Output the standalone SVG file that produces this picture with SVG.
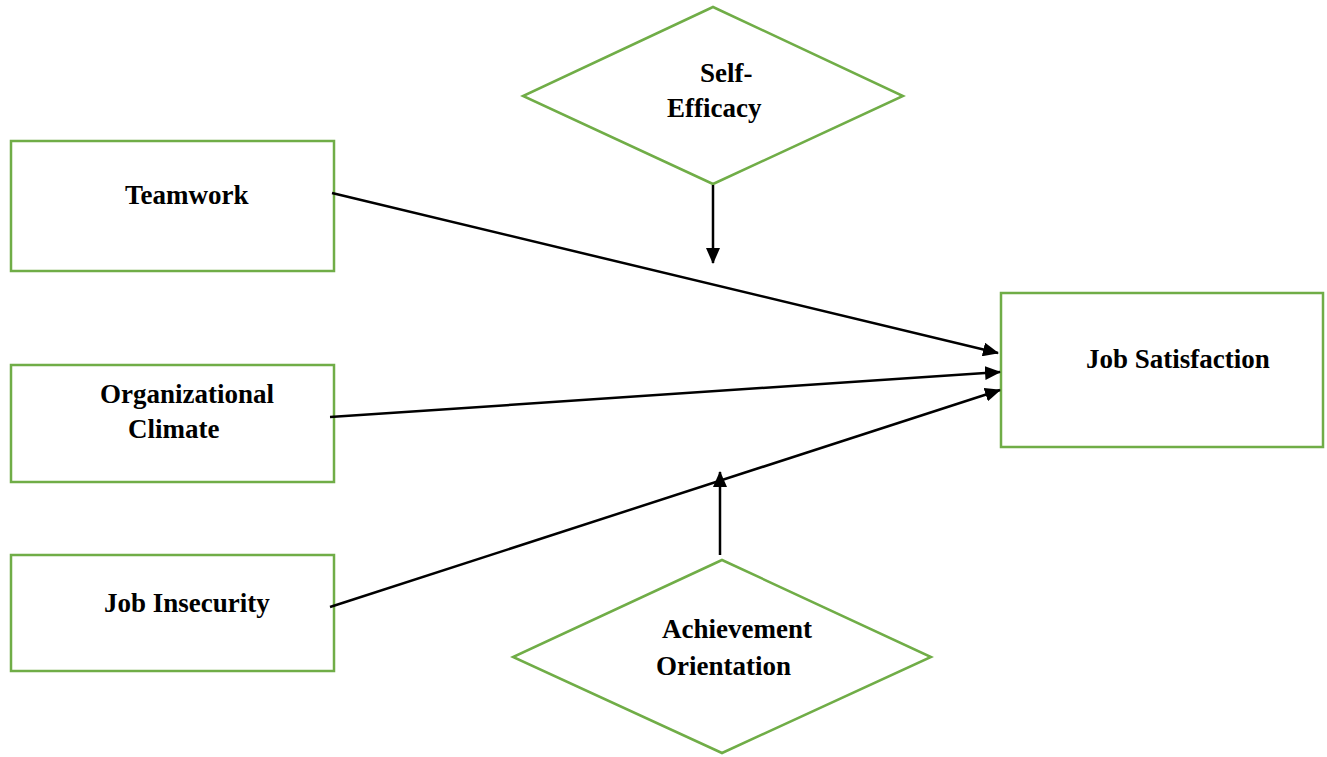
<svg xmlns="http://www.w3.org/2000/svg" width="1327" height="757" viewBox="0 0 1327 757">
<style>
.box{fill:#fff;stroke:#70AD47;stroke-width:2.5}
.lbl{font-family:"Liberation Serif","Times New Roman",serif;font-weight:bold;font-size:27px;fill:#000}
.con{stroke:#000;stroke-width:2.5;fill:none;marker-end:url(#ah)}
</style>
<defs>
<marker id="ah" markerWidth="16" markerHeight="14" refX="15" refY="7" orient="auto" markerUnits="userSpaceOnUse">
<path d="M0,0 L16,7 L0,14 Z" fill="#000"/>
</marker>
</defs>
<rect width="1327" height="757" fill="#fff"/>
<g id="teamwork"><rect class="box" x="11" y="141" width="323" height="130"/><text class="lbl" x="125" y="204">Teamwork</text></g>
<g id="org-climate"><rect class="box" x="11" y="365" width="323" height="117"/><text class="lbl" x="100" y="403">Organizational</text><text class="lbl" x="128" y="438">Climate</text></g>
<g id="job-insecurity"><rect class="box" x="11" y="555" width="323" height="116"/><text class="lbl" x="104" y="612">Job Insecurity</text></g>
<g id="job-satisfaction"><rect class="box" x="1001" y="293" width="322" height="154"/><text class="lbl" x="1086" y="368">Job Satisfaction</text></g>
<g id="self-efficacy"><polygon class="box" points="713,7 903,96 713,184 523,96"/><text class="lbl" x="700" y="82">Self-</text><text class="lbl" x="667" y="117">Efficacy</text></g>
<g id="achievement"><polygon class="box" points="722,560 931,657 722,753 513,657"/><text class="lbl" x="662" y="638">Achievement</text><text class="lbl" x="656" y="675">Orientation</text></g>
<g id="connectors">
<line class="con" x1="332" y1="193" x2="998" y2="353"/>
<line class="con" x1="330" y1="417" x2="1000" y2="372"/>
<line class="con" x1="330" y1="607" x2="1000" y2="390"/>
<line class="con" x1="713" y1="185" x2="713" y2="263"/>
<line class="con" x1="720" y1="555" x2="720" y2="472"/>
</g>
</svg>
